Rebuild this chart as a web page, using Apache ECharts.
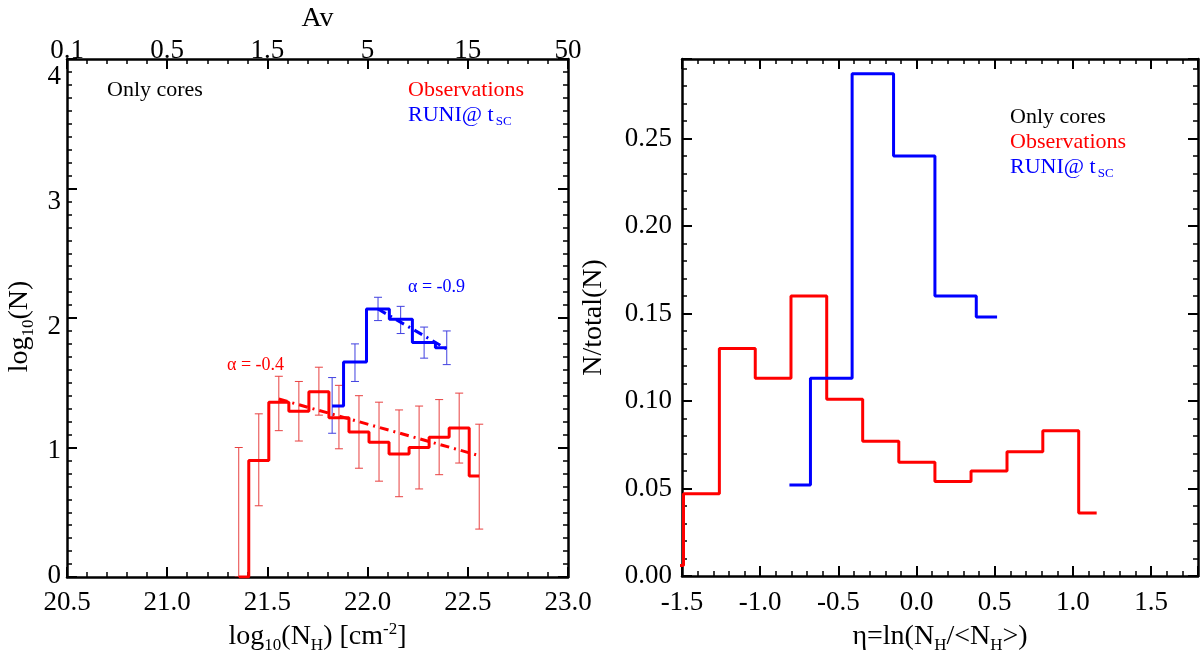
<!DOCTYPE html>
<html>
<head>
<meta charset="utf-8">
<script src="https://cdn.jsdelivr.net/npm/echarts@6/dist/echarts.min.js"></script>
<style>
  html, body { margin: 0; padding: 0; background: #fff; }
  #wrap { position: relative; width: 1200px; height: 659px; }
  #base, #text { position: absolute; left: 0; top: 0; width: 1200px; height: 659px; }
</style>
</head>
<body>
<div id="wrap">
  <div id="base"></div>
  <div id="text"></div>
</div>
<script>
// left panel: log10(N) vs log10(NH), observations (red)
var obsLogNH = [21.357, 21.457, 21.557, 21.657, 21.757, 21.857, 21.957, 22.057, 22.157, 22.257, 22.357, 22.457, 22.557];
var obsLogN = [0.00, 0.90, 1.35, 1.28, 1.43, 1.23, 1.12, 1.04, 0.95, 1.00, 1.08, 1.15, 0.78];
var obsErrLow = [0.00, 0.55, 1.13, 1.05, 1.25, 0.99, 0.84, 0.74, 0.62, 0.68, 0.79, 0.88, 0.37];
var obsErrHigh = [1.00, 1.26, 1.55, 1.51, 1.62, 1.48, 1.40, 1.35, 1.29, 1.32, 1.37, 1.42, 1.18];
var obsFitX = [21.557, 22.557];
var obsFitY = [1.374, 0.937];

// left panel: simulation RUNI (blue)
var simLogNH = [21.823, 21.937, 22.052, 22.165, 22.282, 22.395];
var simLogN = [1.32, 1.66, 2.07, 1.99, 1.81, 1.77];
var simErrLow = [1.11, 1.51, 1.98, 1.88, 1.69, 1.64];
var simErrHigh = [1.54, 1.80, 2.16, 2.09, 1.93, 1.90];
var simFitX = [22.052, 22.395];
var simFitY = [2.069, 1.761];

// right panel: N/total(N) vs eta
var obsEta = [-1.605, -1.376, -1.146, -0.917, -0.689, -0.460, -0.229, 0.002, 0.233, 0.464, 0.693, 0.922, 1.152];
var obsFrac = [0.006, 0.047, 0.130, 0.113, 0.160, 0.101, 0.077, 0.065, 0.054, 0.060, 0.071, 0.083, 0.036];
var simEta = [-0.813, -0.544, -0.280, -0.014, 0.249, 0.515];
var simFrac = [0.052, 0.113, 0.287, 0.240, 0.160, 0.148];

// top axis labels (Av) at the log10(NH) ticks
var nhTicks = [20.5, 21.0, 21.5, 22.0, 22.5, 23.0];
var avLabels = ['0.1', '0.5', '1.5', '5', '15', '50'];

var RED = '#ff0000';
var BLUE = '#0000ff';
var FONT = 'Liberation Serif';

// axis ranges shared by both layers
var ranges = {
  x0: { min: 20.5, max: 23.0, interval: 0.5 },
  x1: { min: -1.5, max: 1.8, interval: 0.5 },
  y0: { min: 0, max: 4, interval: 1 },
  y1: { min: 0, max: 0.2954, interval: 0.05 }
};
var grids = [
  { left: 67, top: 59, width: 501, height: 518 },
  { left: 682, top: 59, width: 516, height: 517 }
];

function pairs(xs, ys) {
  return xs.map(function (x, i) { return [x, ys[i]]; });
}

// error bars with small caps
function errBars(xs, lo, hi, color, axis) {
  return {
    type: 'custom',
    xAxisIndex: axis, yAxisIndex: axis,
    clip: true,
    z: 1,
    data: xs.map(function (x, i) { return [x, lo[i], hi[i]]; }),
    renderItem: function (params, api) {
      var x = api.value(0);
      var a = api.coord([x, api.value(1)]);
      var b = api.coord([x, api.value(2)]);
      var w = 4;
      return {
        type: 'group',
        children: [
          { type: 'line', shape: { x1: a[0], y1: a[1], x2: b[0], y2: b[1] }, style: { stroke: color, lineWidth: 1 } },
          { type: 'line', shape: { x1: a[0] - w, y1: a[1], x2: a[0] + w, y2: a[1] }, style: { stroke: color, lineWidth: 1 } },
          { type: 'line', shape: { x1: b[0] - w, y1: b[1], x2: b[0] + w, y2: b[1] }, style: { stroke: color, lineWidth: 1 } }
        ]
      };
    }
  };
}

function stepLine(xs, ys, color, axis) {
  return {
    type: 'line', step: 'middle', xAxisIndex: axis, yAxisIndex: axis,
    data: pairs(xs, ys), showSymbol: false, symbol: 'none',
    lineStyle: { color: color, width: 3 }, z: 3, animation: false
  };
}

function fitLine(xs, ys, color, axis) {
  return {
    type: 'line', xAxisIndex: axis, yAxisIndex: axis,
    data: pairs(xs, ys), showSymbol: false, symbol: 'none',
    lineStyle: { color: color, width: 3, type: [9, 5, 2, 5] }, z: 4, animation: false
  };
}

// ---- base layer: frame, ticks and data (no text on the axes) ----
function tickAxis(grid, pos, r, minorSplit) {
  return Object.assign({
    type: 'value', gridIndex: grid, position: pos,
    axisLine: { show: true, onZero: false, lineStyle: { color: '#000', width: 2.5 } },
    axisTick: { show: true, inside: true, length: 10, lineStyle: { color: '#000', width: 2 } },
    minorTick: { show: true, splitNumber: minorSplit, length: 5, lineStyle: { color: '#000', width: 1.5 } },
    splitLine: { show: false },
    axisLabel: { show: false }
  }, r);
}

var base = echarts.init(document.getElementById('base'));
base.setOption({
  animation: false,
  backgroundColor: '#fff',
  grid: grids,
  xAxis: [
    tickAxis(0, 'bottom', ranges.x0, 5),
    tickAxis(0, 'top', ranges.x0, 5),
    tickAxis(1, 'bottom', ranges.x1, 5),
    tickAxis(1, 'top', ranges.x1, 5)
  ],
  yAxis: [
    tickAxis(0, 'left', ranges.y0, 10),
    tickAxis(0, 'right', ranges.y0, 10),
    tickAxis(1, 'left', ranges.y1, 5),
    tickAxis(1, 'right', ranges.y1, 5)
  ],
  series: [
    errBars(obsLogNH, obsErrLow, obsErrHigh, '#e84040', 0),
    errBars(simLogNH, simErrLow, simErrHigh, '#4040e0', 0),
    stepLine(obsLogNH, obsLogN, RED, 0),
    stepLine(simLogNH, simLogN, BLUE, 0),
    fitLine(obsFitX, obsFitY, RED, 0),
    fitLine(simFitX, simFitY, BLUE, 0),
    stepLine(obsEta, obsFrac, RED, 2),
    stepLine(simEta, simFrac, BLUE, 2)
  ]
});

// ---- text layer: tick labels, axis titles and annotations ----
var tickFont = { fontFamily: FONT, fontSize: 27, color: '#000' };
var nameRich = {
  n: { fontFamily: FONT, fontSize: 28, color: '#000' },
  s: { fontFamily: FONT, fontSize: 17, color: '#000', padding: [17, 0, 0, 0] },
  p: { fontFamily: FONT, fontSize: 17, color: '#000', padding: [0, 0, 15, 0] }
};

function textAxis(grid, pos, r, extra) {
  var ax = Object.assign({
    type: 'value', gridIndex: grid, position: pos,
    axisLine: { show: false },
    axisTick: { show: false },
    minorTick: { show: false },
    splitLine: { show: false },
    axisLabel: { show: false }
  }, r);
  return Object.assign(ax, extra || {});
}

var legendSub = {
  a: { fill: BLUE, fontFamily: FONT, fontSize: 22 },
  b: { fill: BLUE, fontFamily: FONT, fontSize: 13, padding: [14, 0, 0, 2] }
};

var text = echarts.init(document.getElementById('text'));
text.setOption({
  animation: false,
  grid: grids,
  xAxis: [
    textAxis(0, 'bottom', ranges.x0, {
      axisLabel: Object.assign({ show: true, margin: 13, formatter: function (v) { return v.toFixed(1); } }, tickFont),
      name: '{n|log}{s|10}{n|(N}{s|H}{n|) [cm}{p|-2}{n|]}',
      nameLocation: 'middle', nameGap: 44,
      nameTextStyle: { rich: nameRich }
    }),
    textAxis(0, 'top', ranges.x0, {
      axisLabel: Object.assign({
        show: true, margin: 12,
        formatter: function (v) {
          var i = nhTicks.indexOf(Math.round(v * 10) / 10);
          return i >= 0 ? avLabels[i] : '';
        }
      }, tickFont),
      name: 'Av', nameLocation: 'middle', nameGap: 34,
      nameTextStyle: { fontFamily: FONT, fontSize: 28, color: '#000' }
    }),
    textAxis(1, 'bottom', ranges.x1, {
      axisLabel: Object.assign({
        show: true, margin: 13, showMaxLabel: false,
        formatter: function (v) { return v.toFixed(1); }
      }, tickFont),
      name: '{n|\u03b7=ln(N}{s|H}{n|/<N}{s|H}{n|>)}',
      nameLocation: 'middle', nameGap: 44,
      nameTextStyle: { rich: nameRich }
    }),
    textAxis(1, 'top', ranges.x1)
  ],
  yAxis: [
    textAxis(0, 'left', ranges.y0, {
      axisLabel: Object.assign({ show: true, margin: 6 }, tickFont),
      name: '{n|log}{s|10}{n|(N)}',
      nameLocation: 'middle', nameGap: 30, nameRotate: 90,
      nameTextStyle: { rich: nameRich }
    }),
    textAxis(0, 'right', ranges.y0),
    textAxis(1, 'left', ranges.y1, {
      axisLabel: Object.assign({
        show: true, margin: 10, showMaxLabel: false,
        formatter: function (v) { return v.toFixed(2); }
      }, tickFont),
      name: 'N/total(N)', nameLocation: 'middle', nameGap: 74, nameRotate: 90,
      nameTextStyle: { fontFamily: FONT, fontSize: 28, color: '#000' }
    }),
    textAxis(1, 'right', ranges.y1)
  ],
  series: [],
  graphic: [
    { type: 'text', x: 107, y: 90, style: { text: 'Only cores', fill: '#000', fontFamily: FONT, fontSize: 22, verticalAlign: 'middle' } },
    { type: 'text', x: 408, y: 90, style: { text: 'Observations', fill: RED, fontFamily: FONT, fontSize: 22, verticalAlign: 'middle' } },
    { type: 'text', x: 408, y: 115, style: { text: '{a|RUNI@ t}{b|SC}', verticalAlign: 'middle', rich: legendSub } },
    { type: 'text', x: 1010, y: 117, style: { text: 'Only cores', fill: '#000', fontFamily: FONT, fontSize: 22, verticalAlign: 'middle' } },
    { type: 'text', x: 1010, y: 142, style: { text: 'Observations', fill: RED, fontFamily: FONT, fontSize: 22, verticalAlign: 'middle' } },
    { type: 'text', x: 1010, y: 167, style: { text: '{a|RUNI@ t}{b|SC}', verticalAlign: 'middle', rich: legendSub } },
    { type: 'text', x: 408, y: 287, style: { text: '\u03b1 = -0.9', fill: BLUE, fontFamily: FONT, fontSize: 18, verticalAlign: 'middle' } },
    { type: 'text', x: 227, y: 365, style: { text: '\u03b1 = -0.4', fill: RED, fontFamily: FONT, fontSize: 18, verticalAlign: 'middle' } }
  ]
});
</script>
</body>
</html>
